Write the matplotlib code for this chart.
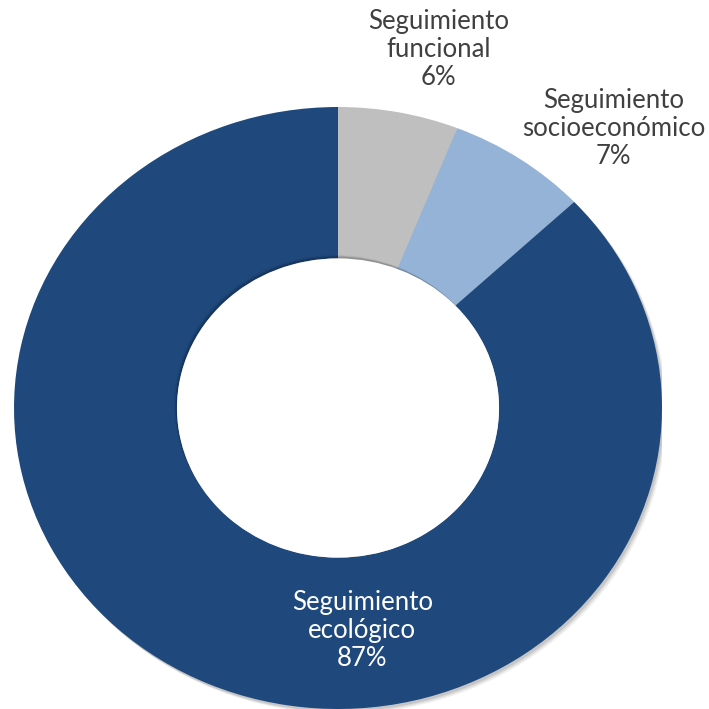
import matplotlib.pyplot as plt
from matplotlib.patches import Ellipse

# Datos
categorias = ['Seguimiento\nfuncional', 'Seguimiento\nsocioeconómico', 'Seguimiento\necológico']
porcentajes = [6, 7, 87]
colores = ['#BFBFBF', '#95B3D7', '#1F497D']
colores_texto = ['#404040', '#404040', 'white']
pos_etiquetas = [(0.31, 1.19), (0.85, 0.93), (0.075, -0.74)]

fig = plt.figure(figsize=(7.09, 7.09), dpi=100)
ax = fig.add_axes([14 / 709, 0, 648 / 709, 602 / 709])

# sombra suave del anillo exterior
for k, a in enumerate([0.10, 0.08, 0.06]):
    ax.add_patch(Ellipse((0.006 + 0.004 * k, -0.008 - 0.004 * k), 2.0, 2.0,
                         color='black', alpha=a, lw=0, zorder=0))

wedges, _ = ax.pie(porcentajes, colors=colores, startangle=90, counterclock=False,
                   radius=1.0, wedgeprops=dict(width=0.503, linewidth=0))
for w in wedges:
    w.set_zorder(1)

# sombra interior del hueco
for k, a in enumerate([0.14, 0.08, 0.04]):
    ax.add_patch(Ellipse((-0.004 - 0.003 * k, 0.006 + 0.003 * k), 0.994, 0.994,
                         color='black', alpha=a, lw=0, zorder=2))
ax.add_patch(Ellipse((0.0, 0.0), 0.994, 0.994, color='white', lw=0, zorder=3))

for cat, p, col, (x, y) in zip(categorias, porcentajes, colores_texto, pos_etiquetas):
    ax.text(x, y, f'{cat}\n{p}%', ha='center', va='center', color=col,
            fontsize=18.5, family='Lato', linespacing=1.15, zorder=5)

ax.set_xlim(-1, 1)
ax.set_ylim(-1, 1)
ax.set_aspect('auto')
ax.axis('off')

fig.savefig('out.png', dpi=100, facecolor='white')
